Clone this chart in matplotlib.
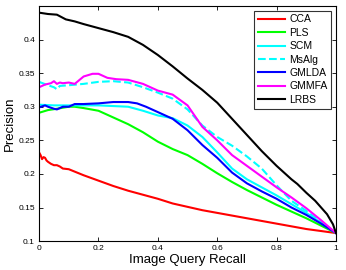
import matplotlib
matplotlib.use("Agg")
import matplotlib.pyplot as plt

plt.rcParams['font.family'] = ['Liberation Sans', 'DejaVu Sans']

# ---- data ----
cca_r = [0, 0.005, 0.01, 0.015, 0.02, 0.025, 0.03, 0.04, 0.05, 0.06, 0.07, 0.08, 0.1, 0.15, 0.2,
         0.25, 0.3, 0.35, 0.4, 0.45, 0.5, 0.55, 0.6, 0.65, 0.7, 0.75, 0.8, 0.85, 0.9, 0.95, 1.0]
cca_p = [0.232, 0.228, 0.222, 0.225, 0.224, 0.220, 0.218, 0.215, 0.213, 0.213, 0.211, 0.208, 0.207,
         0.198, 0.190, 0.182, 0.175, 0.169, 0.163, 0.156, 0.151, 0.146, 0.142, 0.138, 0.134, 0.130,
         0.126, 0.122, 0.118, 0.115, 0.112]

pls_r = [0, 0.03, 0.06, 0.1, 0.12, 0.15, 0.2, 0.25, 0.3, 0.35, 0.4, 0.45, 0.5, 0.55, 0.6, 0.65,
         0.7, 0.75, 0.8, 0.85, 0.9, 0.95, 1.0]
pls_p = [0.291, 0.295, 0.297, 0.300, 0.300, 0.298, 0.294, 0.284, 0.274, 0.262, 0.248, 0.237,
         0.228, 0.215, 0.201, 0.188, 0.176, 0.165, 0.154, 0.144, 0.134, 0.123, 0.112]

scm_r = [0, 0.05, 0.1, 0.15, 0.2, 0.25, 0.3, 0.35, 0.4, 0.45, 0.5, 0.55, 0.6, 0.65, 0.7, 0.75,
         0.8, 0.85, 0.9, 0.95, 1.0]
scm_p = [0.303, 0.302, 0.302, 0.302, 0.302, 0.301, 0.300, 0.294, 0.287, 0.283, 0.272, 0.255,
         0.232, 0.208, 0.192, 0.180, 0.168, 0.155, 0.142, 0.127, 0.112]

msalg_r = [0, 0.03, 0.05, 0.06, 0.07, 0.1, 0.15, 0.2, 0.25, 0.3, 0.35, 0.4, 0.45, 0.5, 0.55,
           0.6, 0.65, 0.7, 0.75, 0.8, 0.85, 0.9, 0.95, 1.0]
msalg_p = [0.337, 0.332, 0.329, 0.326, 0.331, 0.332, 0.334, 0.337, 0.338, 0.336, 0.329, 0.321,
           0.312, 0.296, 0.272, 0.255, 0.242, 0.226, 0.208, 0.183, 0.160, 0.145, 0.128, 0.112]

gmlda_r = [0, 0.02, 0.03, 0.05, 0.06, 0.08, 0.1, 0.12, 0.15, 0.2, 0.25, 0.3, 0.33, 0.36, 0.4,
           0.45, 0.5, 0.55, 0.6, 0.65, 0.7, 0.75, 0.8, 0.85, 0.9, 0.95, 1.0]
gmlda_p = [0.299, 0.302, 0.300, 0.297, 0.296, 0.300, 0.300, 0.304, 0.304, 0.305, 0.307, 0.307,
           0.305, 0.300, 0.292, 0.282, 0.265, 0.243, 0.224, 0.202, 0.186, 0.174, 0.163, 0.150,
           0.139, 0.126, 0.112]

gmmfa_r = [0, 0.02, 0.04, 0.05, 0.06, 0.07, 0.08, 0.1, 0.12, 0.15, 0.18, 0.2, 0.23, 0.26, 0.3,
           0.35, 0.4, 0.45, 0.5, 0.55, 0.6, 0.65, 0.7, 0.75, 0.8, 0.85, 0.9, 0.95, 1.0]
gmmfa_p = [0.329, 0.333, 0.335, 0.338, 0.334, 0.336, 0.335, 0.336, 0.334, 0.345, 0.349, 0.349,
           0.343, 0.341, 0.340, 0.334, 0.324, 0.318, 0.302, 0.270, 0.250, 0.228, 0.212, 0.196,
           0.180, 0.165, 0.149, 0.131, 0.112]

lrbs_r = [0, 0.03, 0.06, 0.09, 0.12, 0.15, 0.2, 0.25, 0.3, 0.35, 0.4, 0.45, 0.5, 0.55, 0.6, 0.65,
          0.7, 0.75, 0.8, 0.85, 0.87, 0.9, 0.93, 0.95, 0.97, 0.99, 1.0]
lrbs_p = [0.440, 0.438, 0.437, 0.430, 0.427, 0.423, 0.417, 0.411, 0.404, 0.392, 0.377, 0.360,
          0.342, 0.325, 0.306, 0.282, 0.258, 0.234, 0.212, 0.192, 0.185, 0.172, 0.160, 0.150,
          0.140, 0.125, 0.112]

series = [
    ("CCA", cca_r, cca_p, (1, 0, 0), "-"),
    ("PLS", pls_r, pls_p, (0, 1, 0), "-"),
    ("SCM", scm_r, scm_p, (0, 1, 1), "-"),
    ("MsAlg", msalg_r, msalg_p, (0, 1, 1), "--"),
    ("GMLDA", gmlda_r, gmlda_p, (0, 0, 1), "-"),
    ("GMMFA", gmmfa_r, gmmfa_p, (1, 0, 1), "-"),
    ("LRBS", lrbs_r, lrbs_p, (0, 0, 0), "-"),
]

x_ticks = [0, 0.2, 0.4, 0.6, 0.8, 1]
x_labels = ["0", "0.2", "0.4", "0.6", "0.8", "1"]
y_ticks = [0.1, 0.15, 0.2, 0.25, 0.3, 0.35, 0.4]
y_labels = ["0.1", "0.15", "0.2", "0.25", "0.3", "0.35", "0.4"]

fig = plt.figure(figsize=(3.46, 2.70), dpi=100)
ax = fig.add_axes([0.113, 0.107, 0.858, 0.871])

for name, r, p, c, ls in series:
    ax.plot(r, p, color=c, linestyle=ls, linewidth=1.5, label=name)

ax.set_xlim(0, 1)
ax.set_ylim(0.1, 0.45)
ax.set_xticks(x_ticks)
ax.set_xticklabels(x_labels)
ax.set_yticks(y_ticks)
ax.set_yticklabels(y_labels)
ax.tick_params(direction='in', top=True, right=True, length=3, width=0.6, labelsize=6, pad=3)
for s in ax.spines.values():
    s.set_linewidth(0.8)

ax.set_xlabel("Image Query Recall", fontsize=9.5, labelpad=1)
ax.set_ylabel("Precision", fontsize=9.5, labelpad=2)

leg = ax.legend(loc='upper right', fontsize=7.5, frameon=True, fancybox=False,
                edgecolor='black', handlelength=2.6, labelspacing=0.33,
                borderaxespad=0.45, borderpad=0.35, handletextpad=0.4)
leg.get_frame().set_linewidth(0.8)

fig.savefig("out.png", dpi=100)
